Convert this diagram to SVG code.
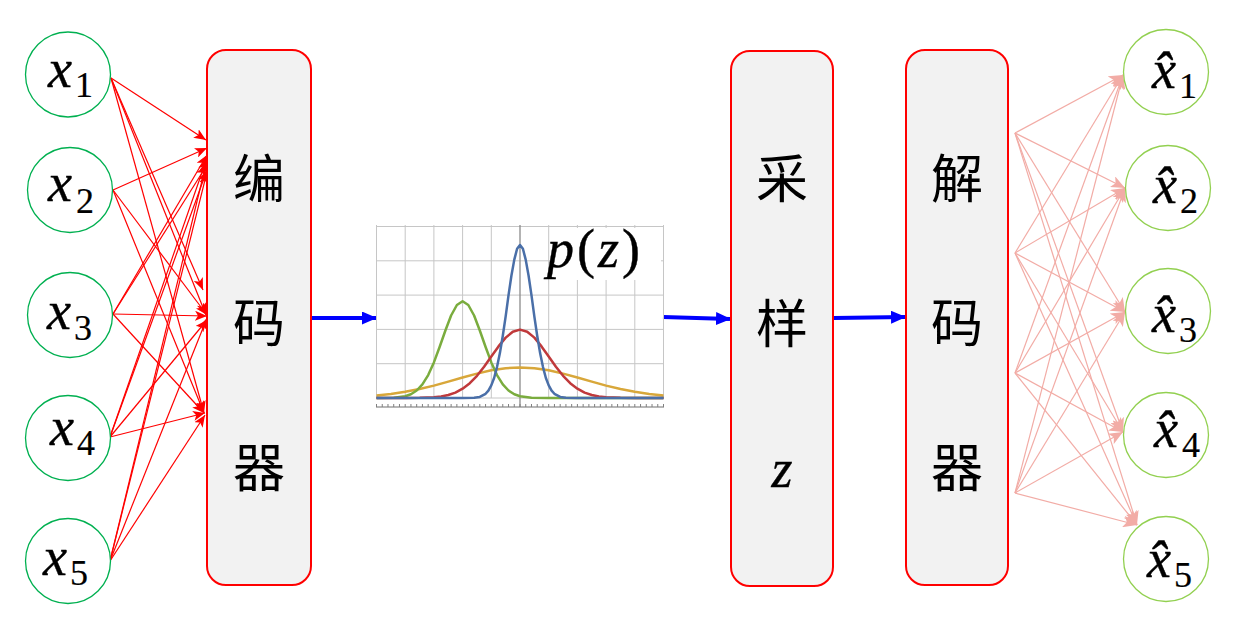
<svg xmlns="http://www.w3.org/2000/svg" width="1259" height="627" viewBox="0 0 1259 627">
<style>
.box{fill:#f2f2f2;stroke:#ff0000;stroke-width:2}
.inC{fill:#ffffff;stroke:#00b050;stroke-width:1.3}
.outC{fill:#ffffff;stroke:#92d050;stroke-width:1.3}
.cjk{font-family:"Noto Sans CJK SC",sans-serif;font-size:52px;fill:#000;text-anchor:middle}
.lbl{font-family:"Liberation Serif",serif;font-style:italic;font-size:54px;fill:#000;stroke:#000;stroke-width:0.4}
.sub{font-style:normal;font-size:36px;stroke-width:0.2}
.lin{stroke:#ff0000;stroke-width:1.2;fill:none;marker-end:url(#ar)}
.lout{stroke:#f2aca6;stroke-width:1.2;fill:none;marker-end:url(#ap)}
.blue{stroke:#0000ff;stroke-width:4;fill:none;marker-end:url(#ab)}
.grid{stroke:#c6c6c6;stroke-width:1;fill:none}
.cv{fill:none;stroke-width:2.5;stroke-linejoin:round}
</style>
<defs>
<marker id="ar" markerUnits="userSpaceOnUse" markerWidth="12" markerHeight="10" refX="12" refY="5" orient="auto"><path d="M0,0 L12,5 L0,10 L3,5 z" fill="#ff0000"/></marker>
<marker id="ap" markerUnits="userSpaceOnUse" markerWidth="14" markerHeight="12" refX="14" refY="6" orient="auto"><path d="M0,0 L14,6 L0,12 L3.5,6 z" fill="#f2aca6"/></marker>
<marker id="ab" markerUnits="userSpaceOnUse" markerWidth="15" markerHeight="13" refX="14" refY="6.5" orient="auto"><path d="M0,0 L15,6.5 L0,13 z" fill="#0000ff"/></marker>
</defs>
<rect width="1259" height="627" fill="#ffffff"/>

<g id="connectors">
<g id="enc-in">
<line class="lin" x1="111" y1="78" x2="206" y2="140"/>
<line class="lin" x1="111" y1="78" x2="203" y2="290"/>
<line class="lin" x1="111" y1="78" x2="206" y2="315"/>
<line class="lin" x1="111" y1="78" x2="204" y2="413"/>
<line class="lin" x1="113" y1="190" x2="207" y2="148"/>
<line class="lin" x1="113" y1="190" x2="207" y2="315"/>
<line class="lin" x1="113" y1="190" x2="204" y2="413"/>
<line class="lin" x1="113" y1="314" x2="207" y2="155"/>
<line class="lin" x1="113" y1="314" x2="207" y2="165"/>
<line class="lin" x1="113" y1="314" x2="207" y2="316"/>
<line class="lin" x1="113" y1="314" x2="204" y2="413"/>
<line class="lin" x1="110" y1="437" x2="207" y2="158"/>
<line class="lin" x1="110" y1="437" x2="207" y2="170"/>
<line class="lin" x1="110" y1="437" x2="207" y2="320"/>
<line class="lin" x1="110" y1="437" x2="205" y2="413"/>
<line class="lin" x1="110" y1="561" x2="207" y2="160"/>
<line class="lin" x1="110" y1="561" x2="207" y2="172"/>
<line class="lin" x1="110" y1="561" x2="207" y2="318"/>
<line class="lin" x1="110" y1="561" x2="205" y2="415"/>
</g>
<g id="dec-out">
<line class="lout" x1="1015" y1="133" x2="1123" y2="75"/>
<line class="lout" x1="1015" y1="133" x2="1125" y2="188"/>
<line class="lout" x1="1015" y1="133" x2="1125" y2="312"/>
<line class="lout" x1="1015" y1="133" x2="1123" y2="432"/>
<line class="lout" x1="1015" y1="133" x2="1137" y2="525"/>
<line class="lout" x1="1015" y1="253" x2="1123" y2="75"/>
<line class="lout" x1="1015" y1="253" x2="1125" y2="188"/>
<line class="lout" x1="1015" y1="253" x2="1125" y2="312"/>
<line class="lout" x1="1015" y1="253" x2="1123" y2="432"/>
<line class="lout" x1="1015" y1="253" x2="1137" y2="525"/>
<line class="lout" x1="1015" y1="373" x2="1123" y2="75"/>
<line class="lout" x1="1015" y1="373" x2="1125" y2="188"/>
<line class="lout" x1="1015" y1="373" x2="1125" y2="312"/>
<line class="lout" x1="1015" y1="373" x2="1123" y2="432"/>
<line class="lout" x1="1015" y1="373" x2="1137" y2="525"/>
<line class="lout" x1="1015" y1="493" x2="1123" y2="75"/>
<line class="lout" x1="1015" y1="493" x2="1125" y2="188"/>
<line class="lout" x1="1015" y1="493" x2="1125" y2="312"/>
<line class="lout" x1="1015" y1="493" x2="1123" y2="432"/>
<line class="lout" x1="1015" y1="493" x2="1137" y2="525"/>
</g>
<line class="blue" x1="312" y1="318" x2="376" y2="318"/>
<line class="blue" x1="663" y1="317" x2="730" y2="319"/>
<line class="blue" x1="834" y1="318" x2="905" y2="317"/>
</g>

<g id="x1"><circle class="inC" cx="68" cy="74.5" r="42.5"/><text class="lbl" x="48" y="87">x<tspan class="sub" dx="3" dy="10">1</tspan></text></g>
<g id="x2"><circle class="inC" cx="70" cy="190" r="42.5"/><text class="lbl" x="48" y="201">x<tspan class="sub" dx="4" dy="12">2</tspan></text></g>
<g id="x3"><circle class="inC" cx="70" cy="315" r="42.5"/><text class="lbl" x="47" y="329">x<tspan class="sub" dx="3" dy="11">3</tspan></text></g>
<g id="x4"><circle class="inC" cx="68" cy="438" r="42.5"/><text class="lbl" x="50" y="445">x<tspan class="sub" dx="3" dy="10">4</tspan></text></g>
<g id="x5"><circle class="inC" cx="68" cy="561" r="42.5"/><text class="lbl" x="43" y="575">x<tspan class="sub" dx="3" dy="10">5</tspan></text></g>

<g id="encoder"><rect class="box" x="207" y="50" width="104" height="535" rx="19"/>
<text class="cjk" x="259" y="198">编</text><text class="cjk" x="259" y="342">码</text><text class="cjk" x="259" y="487">器</text></g>

<g id="pz">
<g class="grid">
<path d="M376.5,226.5H663.5M376.5,260.8H663.5M376.5,295.1H663.5M376.5,329.4H663.5M376.5,363.7H663.5M376.5,398H663.5"/>
<path d="M376.5,225V398M405.2,225V398M433.9,225V398M462.6,225V398M491.3,225V398M548.7,225V398M577.4,225V398M606.1,225V398M634.8,225V398M663.5,225V398"/>
</g>
<path d="M520,225V407" stroke="#8a8a8a" stroke-width="1.3"/>
<path d="M376,407H664" stroke="#707070" stroke-width="1.2"/>
<path d="M376,405.5H664" stroke="#808080" stroke-width="3" stroke-dasharray="1 4.74"/>
<rect x="551" y="228" width="110" height="52" fill="#ffffff"/>
<polyline class="cv" stroke="#d8a73a" points="376.5,395.5 390.9,394.0 405.2,391.8 419.6,389.0 433.9,385.6 448.3,381.6 462.6,377.5 477.0,373.6 491.3,370.3 505.7,368.2 520,367.4 534.4,368.2 548.7,370.3 563.1,373.6 577.4,377.5 591.8,381.6 606.1,385.6 620.5,389.0 634.8,391.8 649.2,394.0 663.5,395.5"/>
<polyline class="cv" stroke="#7aac3e" points="376.5,398 393.7,397.7 405.2,396.2 410.9,394.2 416.7,390.5 422.4,384.4 428.2,375.1 433.9,362.4 439.6,347.0 445.4,330.5 451.1,315.5 456.9,305.0 462.6,301.2 468.3,305.0 474.1,315.5 479.8,330.5 485.6,347.0 491.3,362.4 497.0,375.1 502.8,384.4 508.5,390.5 514.3,394.2 520.0,396.2 531.5,397.7 548.7,398 663.5,398"/>
<polyline class="cv" stroke="#c0393b" points="376.5,398 405.2,398 419.6,397.85 433.9,397.2 441.1,396.4 448.3,395.0 455.4,392.6 462.6,388.7 469.8,383.2 477.0,375.8 484.1,366.7 491.3,356.5 498.5,346.4 505.7,337.6 512.8,331.7 520,329.6 527.2,331.7 534.4,337.6 541.5,346.4 548.7,356.5 555.9,366.7 563.1,375.8 570.2,383.2 577.4,388.7 584.6,392.6 591.8,395.0 598.9,396.4 606.1,397.2 620.5,397.85 634.8,398 663.5,398"/>
<polyline class="cv" stroke="#4a6fa8" points="376.5,398 462.6,398 474.1,397.7 479.8,396.9 485.6,393.8 488.4,390.6 491.3,385.4 494.2,377.8 497.0,367.1 499.9,353.1 502.8,335.8 505.7,316.1 508.5,295.4 511.4,275.8 514.3,259.6 517.1,248.8 520,245 522.9,248.8 525.7,259.6 528.6,275.8 531.5,295.4 534.3,316.1 537.2,335.8 540.1,353.1 543.0,367.1 545.8,377.8 548.7,385.4 551.6,390.6 554.4,393.8 560.2,396.9 565.9,397.7 577.4,398 663.5,398"/>
<text x="547" y="267" font-family="Liberation Serif,serif" font-size="54" fill="#000" stroke="#000" stroke-width="0.4" textLength="93" lengthAdjust="spacing"><tspan font-style="italic">p</tspan>(<tspan font-style="italic">z</tspan>)</text>
</g>

<g id="sampler"><rect class="box" x="731" y="51" width="102" height="535" rx="19"/>
<text class="cjk" x="782" y="198">采</text><text class="cjk" x="782" y="343">样</text>
<text class="lbl" x="782" y="487" font-size="60" text-anchor="middle">z</text></g>

<g id="decoder"><rect class="box" x="906" y="50" width="102" height="535" rx="19"/>
<text class="cjk" x="957" y="198">解</text><text class="cjk" x="957" y="342">码</text><text class="cjk" x="957" y="487">器</text></g>

<g id="xh1"><circle class="outC" cx="1166" cy="72" r="42.5"/><text class="lbl" x="1152" y="88">x&#x302;<tspan class="sub" dx="3" dy="10">1</tspan></text></g>
<g id="xh2"><circle class="outC" cx="1168" cy="188" r="42.5"/><text class="lbl" x="1153" y="203">x&#x302;<tspan class="sub" dx="3" dy="10">2</tspan></text></g>
<g id="xh3"><circle class="outC" cx="1168" cy="311" r="42.5"/><text class="lbl" x="1152" y="332">x&#x302;<tspan class="sub" dx="3" dy="10">3</tspan></text></g>
<g id="xh4"><circle class="outC" cx="1166" cy="435" r="42.5"/><text class="lbl" x="1154" y="447">x&#x302;<tspan class="sub" dx="4" dy="10">4</tspan></text></g>
<g id="xh5"><circle class="outC" cx="1166" cy="559" r="42.5"/><text class="lbl" x="1147" y="577">x&#x302;<tspan class="sub" dx="3" dy="10">5</tspan></text></g>
</svg>
